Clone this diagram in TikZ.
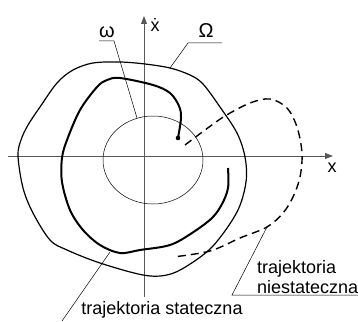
\documentclass[tikz,border=0pt]{standalone}
\usepackage{fontspec}
\setmainfont{Liberation Sans}
\usetikzlibrary{arrows.meta}
\tikzset{
  axis/.style={draw=black!65, line width=0.9pt, -{Triangle[length=8pt,width=6pt]}},
  leader/.style={draw, line width=0.5pt},
  lbl/.style={inner sep=0pt, font=\fontsize{18}{20}\selectfont},
  greek/.style={inner sep=0pt, font=\fontsize{20}{22}\selectfont},
}
\begin{document}
\begin{tikzpicture}[x=1pt,y=-1pt]
\useasboundingbox (0,0) rectangle (358,321);
% axes
\draw[axis] (144,297) -- (144,16);
\draw[axis] (8,156) -- (333,156);
\node[lbl] (xdot) at (155,25) {\.{x}};
\node[lbl] (xlab) at (332,168) {x};
% region omega
\draw[line width=0.5pt] (153,160) ellipse [x radius=50, y radius=44];
% region Omega
\draw[line width=1.2pt] plot[smooth cycle, tension=0.55] coordinates {
  (18,156) (21,140) (28,125) (40,107) (57,83) (73,70) (93,63) (120,62)
  (145,64) (170,68) (190,75) (203,84) (220,107) (237,133) (245,157)
  (246,182) (237,212) (213,246) (187,266) (167,275) (143,275) (100,263)
  (67,250) (50,240) (33,213) (23,188)};
% stable trajectory
\draw[line width=2pt] plot[smooth, tension=0.55] coordinates {
  (178,138) (181,118) (179,106) (170,93) (153,85) (120,78) (107,80)
  (97,87) (80,110) (67,140) (62,158) (62,182) (70,210) (83,230)
  (100,245) (120,253) (140,250) (170,245) (192,233) (212,218)
  (222,204) (228,188) (228,168)};
\fill (178,138) circle (2.3pt);
% unstable trajectory
\draw[line width=1.4pt, dash pattern=on 8pt off 5pt] plot[smooth, tension=0.55] coordinates {
  (185,145) (205,130) (225,116) (250,103) (270,99) (287,108) (297,127)
  (302,153) (300,177) (293,197) (283,213) (267,227) (240,238)
  (210,251) (173,257)};
% labels
\node[greek] (om) at (107,32) {ω};
\coordinate (omA) at (99,41);
\coordinate (omB) at (114,41);
\coordinate (omC) at (137,118);
\draw[leader] (omA) -- (omB) -- (omC);
\node[greek] (Om) at (206,31) {Ω};
\coordinate (OmA) at (222,43);
\coordinate (OmB) at (188,43);
\coordinate (OmC) at (170,68);
\draw[leader] (OmA) -- (OmB) -- (OmC);
\node[lbl, anchor=west, align=left] (unst) at (257,277) {trajektoria\\niestateczna};
\coordinate (unA) at (358,295);
\coordinate (unB) at (232,295);
\coordinate (unC) at (267,227);
\draw[leader] (unA) -- (unB) -- (unC);
\node[lbl] (stab) at (162,310) {trajektoria stateczna};
\coordinate (stA) at (62,321);
\coordinate (stB) at (110,252);
\draw[leader] (stA) -- (stB);
\end{tikzpicture}
\end{document}
